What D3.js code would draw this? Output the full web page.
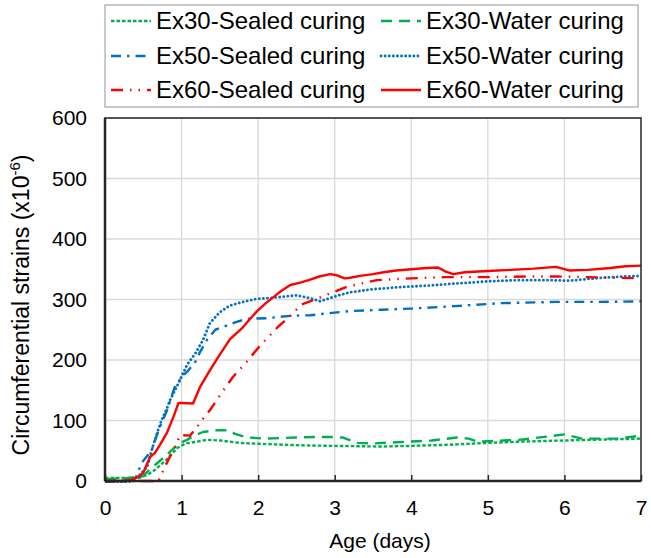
<!DOCTYPE html>
<html>
<head>
<meta charset="utf-8">
<script src="https://cdn.jsdelivr.net/npm/d3@7"></script>
<style>
  html, body { margin: 0; padding: 0; background: #fff; }
  svg { display: block; font-family: "Liberation Sans", Arial, sans-serif; }
</style>
</head>
<body>
<svg id="chart" width="651" height="558"></svg>
<script>
// ---------------- data ----------------
const xTicks = [0, 1, 2, 3, 4, 5, 6, 7];
const yTicks = [0, 100, 200, 300, 400, 500, 600];

const ex30Sealed = [[0,5],[0.3,5],[0.45,5],[0.55,10],[0.65,18],[0.8,35],[0.95,55],[1.05,62],[1.15,64],[1.33,68],[1.5,67],[1.76,63],[2.11,61],[2.55,59],[3.0,58],[3.59,57],[4.0,58],[4.5,60],[5.0,63],[5.41,65],[6.0,67],[6.32,68],[7.0,70]];
const ex30Water = [[0,3],[0.3,5],[0.5,8],[0.55,15],[0.65,26],[0.76,38],[0.87,51],[0.98,63],[1.07,68],[1.18,76],[1.28,81],[1.46,84],[1.6,84],[1.7,78],[1.85,72],[2.1,70],[2.5,72],[2.9,73],[3.1,72],[3.3,63],[3.5,62],[3.8,64],[4.27,67],[4.6,72],[4.75,70],[4.86,65],[5.2,67],[5.41,68],[5.82,74],[6.0,77],[6.23,70],[6.69,70],[7.0,75]];
const ex50Sealed = [[0,-3],[0.3,-2],[0.4,5],[0.48,30],[0.61,51],[0.7,84],[0.81,117],[0.91,155],[1.0,172],[1.09,183],[1.18,197],[1.24,213],[1.33,233],[1.44,250],[1.57,256],[1.72,263],[1.85,268],[2.11,269],[2.42,273],[2.68,274],[3.2,281],[3.6,283],[4.0,285],[4.57,289],[5.18,294],[5.89,296],[6.5,296],[7.0,297]];
const ex50Water = [[0,-3],[0.3,-2],[0.37,3],[0.45,10],[0.55,23],[0.61,51],[0.68,79],[0.74,101],[0.81,120],[0.85,134],[0.98,167],[1.07,192],[1.18,211],[1.28,233],[1.37,261],[1.5,279],[1.63,290],[1.8,296],[1.98,301],[2.2,303],[2.5,307],[2.68,302],[2.81,297],[3.0,305],[3.2,312],[3.5,317],[3.8,320],[4.22,323],[4.53,326],[5.0,330],[5.4,332],[5.8,332],[6.06,331],[6.4,335],[6.77,338],[7.0,339]];
const ex60Sealed = [[0,0],[0.3,0],[0.6,0],[0.68,-2],[0.72,5],[0.78,23],[0.87,46],[0.94,63],[0.98,76],[1.11,75],[1.2,89],[1.28,103],[1.37,117],[1.53,147],[1.67,172],[1.85,197],[2.0,220],[2.11,235],[2.26,255],[2.46,277],[2.55,291],[2.72,299],[2.94,310],[3.16,321],[3.33,326],[3.55,332],[4.0,335],[4.44,337],[5.0,337],[5.5,338],[5.89,338],[6.3,337],[7.0,335]];
const ex60Water = [[0,0],[0.2,0],[0.35,2],[0.45,8],[0.5,14],[0.59,40],[0.65,46],[0.72,60],[0.81,80],[0.9,108],[0.96,129],[1.0,129],[1.15,128],[1.24,155],[1.37,183],[1.48,205],[1.63,234],[1.8,254],[1.98,280],[2.1,294],[2.2,304],[2.3,314],[2.42,324],[2.55,328],[2.68,333],[2.8,338],[2.94,342],[3.03,340],[3.13,335],[3.2,336],[3.33,339],[3.5,342],[3.64,345],[3.8,348],[4.0,350],[4.2,352],[4.35,353],[4.45,346],[4.55,342],[4.7,345],[5.0,347],[5.3,349],[5.6,351],[5.89,354],[6.06,348],[6.3,349],[6.6,352],[6.8,355],[7.0,356]];

const seriesNames = ["Ex30-Sealed curing","Ex30-Water curing","Ex50-Sealed curing","Ex50-Water curing","Ex60-Sealed curing","Ex60-Water curing"];
const seriesData = [ex30Sealed, ex30Water, ex50Sealed, ex50Water, ex60Sealed, ex60Water];

// ---------------- styles ----------------
const GREEN = "#00b050", BLUE = "#0070c0", RED = "#ff0000";
const styles = [
  {color: GREEN, dash: "3.5,2", cap: "butt", w: 2.4},
  {color: GREEN, dash: "11,7", cap: "butt", w: 2.4},
  {color: BLUE, dash: "10,6,2.5,6", cap: "butt", w: 2.4},
  {color: BLUE, dash: "0.1,4", cap: "round", w: 2.8},
  {color: RED, dash: "12,7,1.5,7,1.5,7", cap: "butt", w: 2.4},
  {color: RED, dash: null, cap: "butt", w: 2.4}
];

// ---------------- layout ----------------
const svg = d3.select("#chart");
const plot = {left: 105, right: 641, top: 118, bottom: 481};
const x = d3.scaleLinear().domain([0, 7]).range([plot.left, plot.right]);
const y = d3.scaleLinear().domain([0, 600]).range([plot.bottom, plot.top]);

// gridlines
svg.append("g").selectAll("line.h").data(yTicks.slice(1)).join("line")
  .attr("x1", plot.left).attr("x2", plot.right)
  .attr("y1", d => y(d)).attr("y2", d => y(d))
  .attr("stroke", "#d9d9d9").attr("stroke-width", 1.3);
svg.append("g").selectAll("line.v").data(xTicks.slice(1, -1)).join("line")
  .attr("y1", plot.top).attr("y2", plot.bottom)
  .attr("x1", d => x(d)).attr("x2", d => x(d))
  .attr("stroke", "#d9d9d9").attr("stroke-width", 1.3);

// series
const line = d3.line().x(d => x(d[0])).y(d => y(d[1]));
const clip = svg.append("clipPath").attr("id", "clip").append("rect")
  .attr("x", plot.left).attr("y", plot.top - 2)
  .attr("width", plot.right - plot.left).attr("height", plot.bottom - plot.top + 4);
const gSeries = svg.append("g").attr("clip-path", "url(#clip)");
seriesData.forEach((data, i) => {
  const s = styles[i];
  gSeries.append("path").datum(data)
    .attr("d", line).attr("fill", "none")
    .attr("stroke", s.color).attr("stroke-width", s.w)
    .attr("stroke-linecap", s.cap).attr("stroke-linejoin", "round")
    .attr("stroke-dasharray", s.dash);
});

// frame
svg.append("rect").attr("x", plot.left).attr("y", plot.top)
  .attr("width", plot.right - plot.left).attr("height", plot.bottom - plot.top)
  .attr("fill", "none").attr("stroke", "#262626").attr("stroke-width", 1.5);
svg.append("line").attr("x1", plot.left).attr("x2", plot.left)
  .attr("y1", plot.top).attr("y2", plot.bottom)
  .attr("stroke", "#262626").attr("stroke-width", 2.5);
svg.append("line").attr("x1", plot.left).attr("x2", plot.right)
  .attr("y1", plot.bottom).attr("y2", plot.bottom)
  .attr("stroke", "#262626").attr("stroke-width", 2.5);

// axes
const xAxis = d3.axisBottom(x).tickValues(xTicks).tickSize(-6).tickPadding(19).tickFormat(d3.format("d"));
const gx = svg.append("g").attr("transform", `translate(0,${plot.bottom})`).call(xAxis);
const yAxis = d3.axisLeft(y).tickValues(yTicks).tickSize(0).tickPadding(18).tickFormat(d3.format("d"));
const gy = svg.append("g").attr("transform", `translate(${plot.left},0)`).call(yAxis);
[gx, gy].forEach(g => {
  g.select(".domain").remove();
  g.selectAll(".tick line").attr("stroke", "#262626").attr("stroke-width", 1.5);
  g.selectAll("text").attr("font-size", 21).attr("fill", "#000")
    .attr("font-family", "'Liberation Sans', Arial, sans-serif");
});

// axis titles
svg.append("text").attr("x", 380).attr("y", 548)
  .attr("text-anchor", "middle").attr("font-size", 21).text("Age (days)");
const yt = svg.append("text").attr("transform", `translate(29,305) rotate(-90)`)
  .attr("text-anchor", "middle").attr("font-size", 23);
yt.append("tspan").text("Circumferential strains (x10");
yt.append("tspan").attr("font-size", 15).attr("dy", -9).text("-6");
yt.append("tspan").attr("dy", 9).text(")");

// legend
const leg = svg.append("g");
leg.append("rect").attr("x", 105).attr("y", 5).attr("width", 533).attr("height", 102)
  .attr("fill", "#fff").attr("stroke", "#a6a6a6").attr("stroke-width", 1.2);
const legCols = [111, 381];
const legRows = [21, 56, 90];
seriesNames.forEach((name, i) => {
  const cx = legCols[i % 2], cy = legRows[Math.floor(i / 2)];
  const s = styles[i];
  leg.append("line").attr("x1", cx).attr("x2", cx + 40).attr("y1", cy).attr("y2", cy)
    .attr("stroke", s.color).attr("stroke-width", s.w)
    .attr("stroke-linecap", s.cap).attr("stroke-dasharray", s.dash);
  leg.append("text").attr("x", cx + 45).attr("y", cy).attr("dy", "0.35em")
    .attr("font-size", 24).attr("fill", "#000").text(name);
});
</script>
</body>
</html>
